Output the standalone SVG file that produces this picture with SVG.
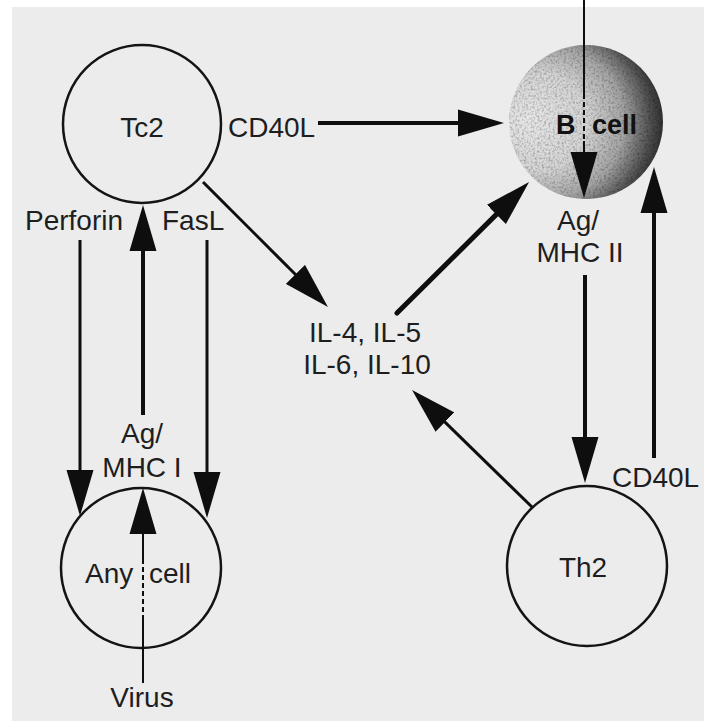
<svg xmlns="http://www.w3.org/2000/svg" width="704" height="721" viewBox="0 0 704 721">
  <style>
    text { font-family: "Liberation Sans", Arial, sans-serif; font-size: 28px; fill: #1e1e1e; }
    .mid { text-anchor: middle; }
    .cell { fill: none; stroke: #141414; stroke-width: 2.5; }
    .ln { stroke: #0e0e0e; fill: none; }
    .w2 { stroke-width: 2; }
    .w3 { stroke-width: 3; }
    .w4 { stroke-width: 4; }
    .w5 { stroke-width: 5; stroke-linecap: round; }
    .dash { stroke-dasharray: 5 3; }
    .arr { marker-end: url(#head); }
  </style>
  <defs>
    <marker id="head" markerUnits="userSpaceOnUse" viewBox="0 -14 48 28" markerWidth="48" markerHeight="28" refX="10" refY="0" orient="auto">
      <path d="M0,-13.5 L46,0 L0,13.5 Z" fill="#0e0e0e"/>
    </marker>
    <radialGradient id="bshade" cx="0.32" cy="0.5" fx="0.1" fy="0.5" r="0.76">
      <stop offset="0" stop-color="#e8e8e8"/>
      <stop offset="0.42" stop-color="#d4d4d4"/>
      <stop offset="0.66" stop-color="#a4a4a4"/>
      <stop offset="0.84" stop-color="#4e4e4e"/>
      <stop offset="1" stop-color="#141414"/>
    </radialGradient>
    <filter id="grain" x="0" y="0" width="1" height="1">
      <feTurbulence type="fractalNoise" baseFrequency="0.45" numOctaves="2" seed="4" result="n"/>
      <feColorMatrix in="n" type="matrix" values="0 0 0 0 0  0 0 0 0 0  0 0 0 0 0  1.2 0 0 0 -0.5" result="dots"/>
      <feComposite in="dots" in2="SourceGraphic" operator="atop"/>
    </filter>
  </defs>

  <rect x="0" y="0" width="704" height="721" fill="#ffffff"/>
  <rect x="12" y="7" width="692" height="714" fill="#ececec"/>

  <g id="tc2">
    <circle class="cell" cx="142" cy="124" r="79"/>
    <text class="mid" x="142" y="137">Tc2</text>
  </g>

  <g id="bcell">
    <circle cx="586" cy="122" r="77" fill="url(#bshade)" filter="url(#grain)"/>
    <text x="556" y="134" style="font-weight:bold; font-size:27px; fill:#111">B <tspan x="592">cell</tspan></text>
  </g>

  <g id="anycell">
    <circle class="cell" cx="141" cy="568" r="80"/>
    <text x="85" y="583">Any <tspan x="149">cell</tspan></text>
  </g>

  <g id="th2">
    <circle class="cell" cx="587" cy="566" r="80"/>
    <text class="mid" x="583" y="577">Th2</text>
  </g>

  <g id="cytokines">
    <text class="mid" x="365" y="342">IL-4, IL-5</text>
    <text class="mid" x="367" y="374">IL-6, IL-10</text>
  </g>

  <g id="labels">
    <text x="228" y="137">CD40L</text>
    <text x="25" y="230">Perforin</text>
    <text x="162" y="230">FasL</text>
    <text class="mid" x="142" y="443">Ag/</text>
    <text class="mid" x="142" y="477">MHC I</text>
    <text class="mid" x="578" y="230">Ag/</text>
    <text class="mid" x="580" y="262">MHC II</text>
    <text x="612" y="487">CD40L</text>
    <text class="mid" x="142" y="707">Virus</text>
  </g>

  <g id="connectors">
    <!-- Tc2 CD40L to B cell -->
    <line class="ln w4 arr" x1="318" y1="123" x2="468" y2="123"/>
    <!-- Tc2 to IL -->
    <line class="ln w3 arr" x1="203" y1="182" x2="302.5" y2="281.5"/>
    <!-- IL to B cell -->
    <line class="ln w5 arr" x1="397" y1="313" x2="503.5" y2="207.4"/>
    <!-- Th2 to IL -->
    <line class="ln w3 arr" x1="532" y1="507" x2="437.8" y2="415.1"/>
    <!-- antigen into B cell -->
    <line class="ln w2" x1="584" y1="0" x2="584" y2="94"/>
    <line class="ln w2 dash" x1="584" y1="94" x2="584" y2="141"/>
    <line class="ln w2 arr" x1="584" y1="141" x2="584" y2="162"/>
    <!-- MHC II to Th2 -->
    <line class="ln w4 arr" x1="585" y1="275" x2="585" y2="447"/>
    <!-- Th2 CD40L to B cell -->
    <line class="ln w4 arr" x1="654" y1="458" x2="654" y2="203"/>
    <!-- Perforin -->
    <line class="ln w3 arr" x1="80" y1="240" x2="80" y2="480"/>
    <!-- FasL -->
    <line class="ln w3 arr" x1="207" y1="240" x2="207" y2="482"/>
    <!-- Ag/MHC I to Tc2 -->
    <line class="ln w4 arr" x1="143" y1="415" x2="143" y2="241"/>
    <!-- Virus -->
    <line class="ln w2" x1="143" y1="683" x2="143" y2="620"/>
    <line class="ln w2 dash" x1="143" y1="620" x2="143" y2="560"/>
    <line class="ln w2 arr" x1="143" y1="560" x2="143" y2="524"/>
  </g>
</svg>
